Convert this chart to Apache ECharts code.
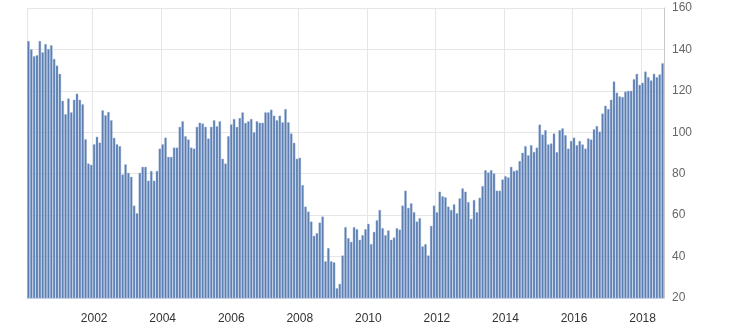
<!DOCTYPE html>
<html>
<head>
<meta charset="utf-8">
<script src="https://cdn.jsdelivr.net/npm/echarts@6/dist/echarts.min.js"></script>
<style>
html,body{margin:0;padding:0;background:#fff;}
#chart{width:730px;height:332px;}
</style>
</head>
<body>
<div id="chart"></div>
<script>
// Monthly series, Feb 2000 .. Aug 2018
var startYear = 2000, startMonth = 2;
var values = [
144,140,136.7,137.2,144,138.6,142.6,140.2,142,135.4,132.2,128.2,115.2,108.7,116.3,109.6,115.7,118.6,115.7,113.5,96.6,84.9,84.3,94.2,97.8,95,110.6,108.2,109.8,105.8,97.3,94.2,93.3,79.6,84.5,80.4,78.5,
64.6,60.9,80.4,83.3,83.3,76.6,81.3,76.6,81.3,92.1,94.2,97.4,88.1,88.1,92.6,92.6,102.6,105.3,98.1,96.5,92.6,92.1,102.6,104.6,104.2,102.6,97,102.6,105.8,102.9,105.3,87.2,84.9,98.1,103.8,106.4,102.6,
106.9,109.6,104.5,105.3,106.4,100,105.3,104.6,104.6,109.6,109.6,110.9,108,105.8,108,104.8,111.2,104.8,99.4,94.9,87.2,87.7,74.5,64.1,61.7,56.9,50,51.3,56.4,59.3,37.7,44.1,37.7,37.2,24.7,26.8,40.5,
54.2,48.9,47.1,54.2,53.2,48.1,50.3,53.2,55.8,46,51.9,57.5,62.5,53.7,50.3,52.6,48.1,49.2,53.7,53,64.6,71.8,63.5,65.7,61.4,56.9,58.5,44.9,46,40.5,54.8,64.6,61.4,71.3,69.1,68.6,64.1,
62.5,65.2,60.9,68.1,72.9,71.3,66.3,58.2,67.3,61.4,68.4,74,81.7,80.6,81.7,80.1,71.8,71.8,77.2,78.8,78.2,83.3,81.3,81.7,86.1,90.1,93.3,88.9,93.8,90.5,92.6,103.7,98.9,101,94.1,94.6,99.4,
90.4,101,101.9,98.6,92.1,95.8,97.4,93.8,95.8,94.1,92.1,97,96.5,101.4,103,100.3,109,112.8,111.2,115.7,124.5,119.1,117.3,117,119.6,120,120,125.6,128.2,122.9,123.9,129.3,126.6,125,128.2,126.6,127.9,133.3
];
var yTicks = [20, 40, 60, 80, 100, 120, 140, 160];
var labelYears = [2002, 2004, 2006, 2008, 2010, 2012, 2014, 2016, 2018];

var categories = [];
for (var i = 0; i < values.length; i++) {
  var m = startMonth - 1 + i;
  var y = startYear + Math.floor(m / 12);
  var mm = (m % 12) + 1;
  categories.push(y + '-' + (mm < 10 ? '0' + mm : mm));
}
function isLabel(idx) {
  var c = categories[idx];
  if (!c) return false;
  return c.slice(5) === '01' && labelYears.indexOf(+c.slice(0, 4)) >= 0;
}

var chart = echarts.init(document.getElementById('chart'), null, {renderer: 'canvas'});
chart.setOption({
  animation: false,
  backgroundColor: '#ffffff',
  grid: {left: 27, right: 66, top: 8, bottom: 34, containLabel: false},
  xAxis: {
    type: 'category',
    data: categories,
    boundaryGap: true,
    axisLine: {show: true, lineStyle: {color: '#ccd6eb', width: 1}},
    axisTick: {show: false},
    axisLabel: {
      interval: function (idx) { return isLabel(idx); },
      formatter: function (v) { return v.slice(0, 4); },
      color: '#333333',
      fontFamily: 'Liberation Sans, Arial, sans-serif',
      fontSize: 12,
      margin: 15
    },
    splitLine: {
      show: true,
      interval: function (idx) { return idx === 0 || isLabel(idx); },
      lineStyle: {color: '#e6e6e6', width: 1}
    }
  },
  yAxis: {
    type: 'value',
    position: 'right',
    min: yTicks[0],
    max: yTicks[yTicks.length - 1],
    interval: 20,
    axisLine: {show: true, lineStyle: {color: '#c8c8c8', width: 1}},
    axisTick: {show: false},
    axisLabel: {
      color: '#666666',
      fontFamily: 'Liberation Sans, Arial, sans-serif',
      fontSize: 12,
      margin: 8
    },
    splitLine: {show: true, lineStyle: {color: '#e6e6e6', width: 1}}
  },
  series: [{
    type: 'bar',
    data: values,
    barCategoryGap: '16%',
    itemStyle: {color: '#5a7cb1', borderColor: '#9bb2d6', borderWidth: 0.4}
  }]
});
</script>
</body>
</html>
